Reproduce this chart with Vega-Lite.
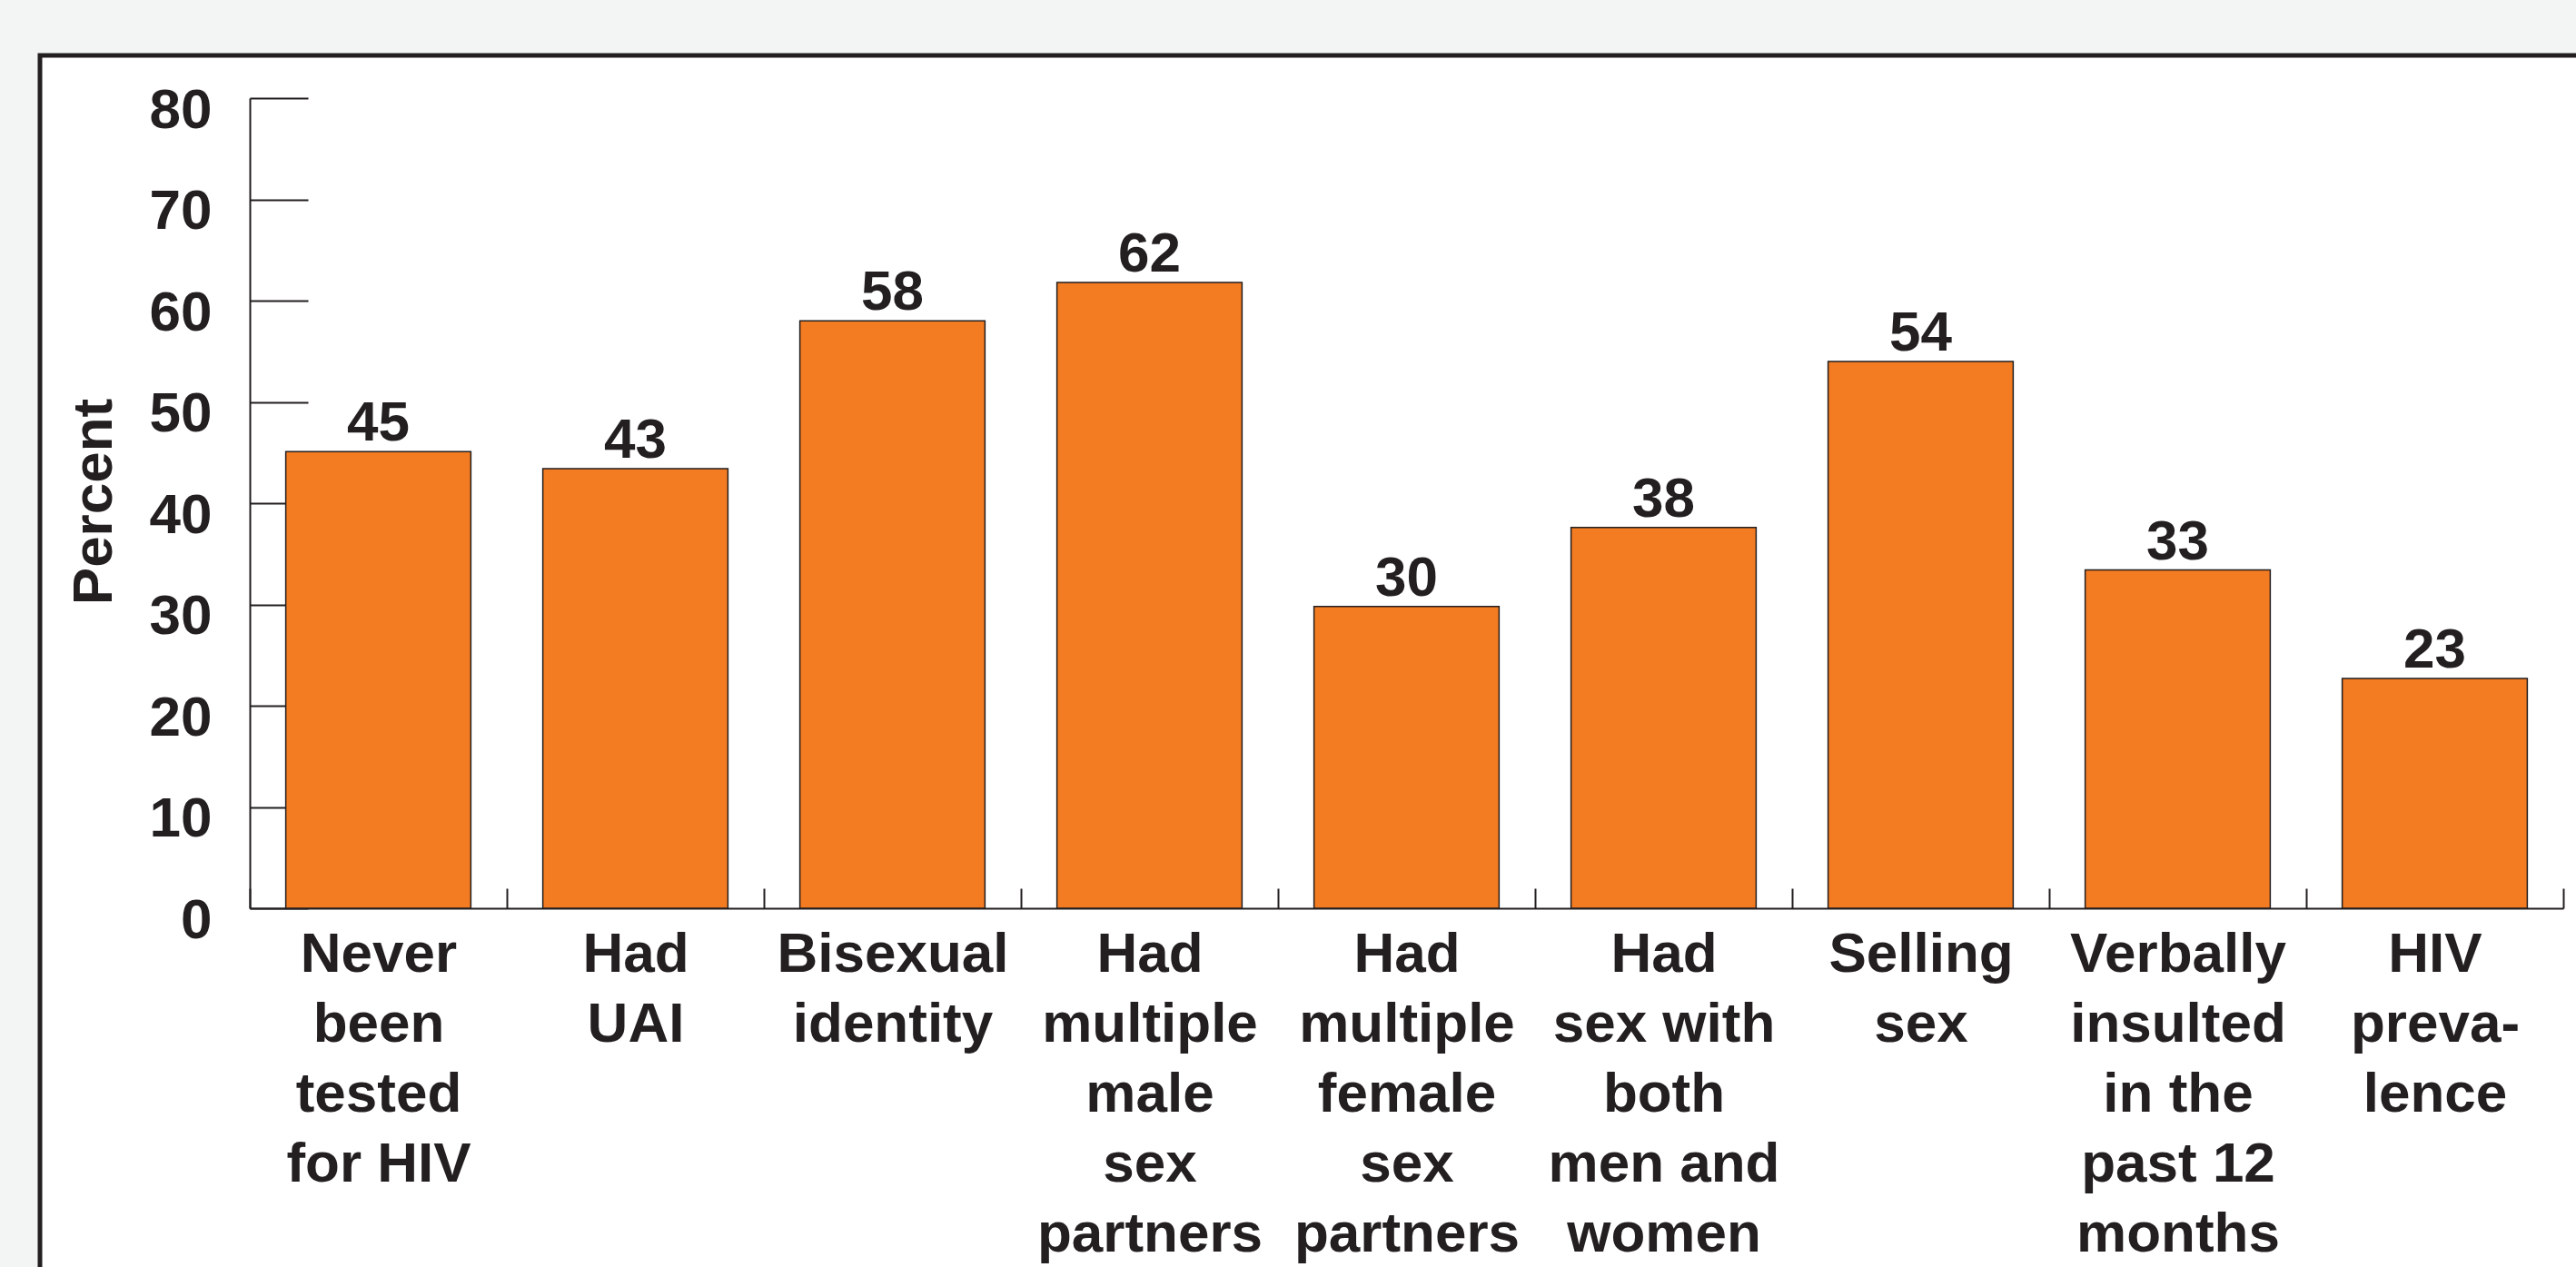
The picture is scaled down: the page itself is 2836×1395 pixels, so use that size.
{
  "$schema": "https://vega.github.io/schema/vega-lite/v6.json",
  "width": 2812,
  "height": 1354,
  "autosize": {"type": "none"},
  "padding": {"left": 44, "top": 61, "right": 0, "bottom": 0},
  "background": "#F3F5F4",
  "config": {
    "view": {"fill": "#FFFFFF", "stroke": "#231F20", "strokeWidth": 5},
    "font": "Liberation Sans",
    "axis": {
      "domainColor": "#231F20",
      "domainWidth": 2,
      "tickColor": "#231F20",
      "tickWidth": 2,
      "labelFont": "Liberation Sans",
      "labelFontWeight": "bold",
      "labelFontSize": 62,
      "labelColor": "#231F20",
      "titleFont": "Liberation Sans",
      "titleFontWeight": "bold",
      "titleFontSize": 62,
      "titleColor": "#231F20",
      "grid": false
    }
  },
  "data": {
    "values": [
      {"category": "Never|been|tested|for HIV", "value": 45.1},
      {"category": "Had|UAI", "value": 43.4},
      {"category": "Bisexual|identity", "value": 58.0},
      {"category": "Had|multiple|male|sex|partners", "value": 61.8},
      {"category": "Had|multiple|female|sex|partners", "value": 29.8},
      {"category": "Had|sex with|both|men and|women", "value": 37.6},
      {"category": "Selling|sex", "value": 54.0},
      {"category": "Verbally|insulted|in the|past 12|months", "value": 33.4},
      {"category": "HIV|preva-|lence", "value": 22.7}
    ]
  },
  "encoding": {
    "x": {
      "field": "category",
      "type": "nominal",
      "sort": null,
      "scale": {"range": [231, 2778], "paddingInner": 0, "paddingOuter": 0},
      "axis": {
        "title": null,
        "orient": "bottom",
        "offset": -415,
        "tickBand": "extent",
        "tickSize": -22,
        "labelPadding": 42,
        "labelAngle": 0,
        "labelAlign": "center",
        "labelBaseline": "top",
        "labelLineHeight": 77,
        "labelExpr": "split(datum.label, '|')",
        "labelLimit": 0
      }
    },
    "y": {
      "field": "value",
      "type": "quantitative",
      "scale": {"domain": [0, 80], "range": [939, 47], "nice": false, "zero": true},
      "axis": {
        "title": "Percent",
        "orient": "left",
        "offset": -231,
        "values": [0, 10, 20, 30, 40, 50, 60, 70, 80],
        "tickSize": -64,
        "labelPadding": 106,
        "labelBaseline": "middle",
        "labelOffset": 13,
        "labelAlign": "right",
        "titleAngle": -90,
        "titleX": -153,
        "titleY": 491,
        "titleBaseline": "alphabetic",
        "titleAlign": "center"
      }
    }
  },
  "layer": [
    {
      "mark": {"type": "bar", "width": {"band": 0.72}, "fill": "#F37B21", "stroke": "#231F20", "strokeWidth": 1.5}
    },
    {
      "mark": {
        "type": "text",
        "baseline": "alphabetic",
        "align": "center",
        "dy": -12,
        "font": "Liberation Sans",
        "fontWeight": "bold",
        "fontSize": 62,
        "color": "#231F20"
      },
      "encoding": {
        "text": {"field": "value", "type": "quantitative", "format": ".0f"}
      }
    }
  ]
}
